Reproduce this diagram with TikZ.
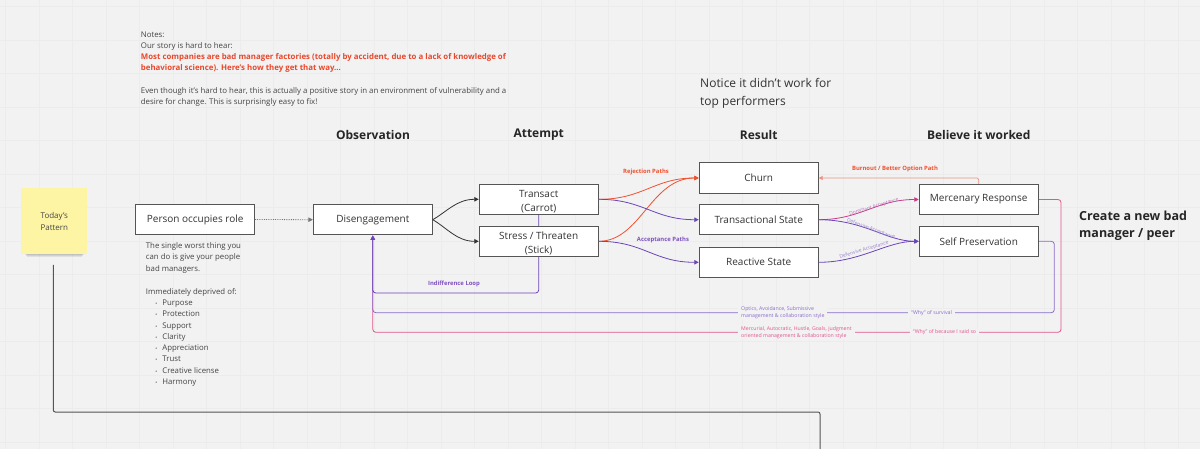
\documentclass[tikz,border=0pt]{standalone}
\usepackage{fontspec}
\setmainfont{Open Sans}
\usetikzlibrary{arrows.meta,calc}
\pgfdeclarelayer{bgl}
\pgfdeclarelayer{lines}
\pgfsetlayers{bgl,lines,main}
\definecolor{bgc}{HTML}{F2F2F2}
\definecolor{gridc}{HTML}{ECECEC}
\definecolor{boxline}{HTML}{555555}
\definecolor{txt}{HTML}{333333}
\definecolor{notetxt}{HTML}{444444}
\definecolor{redc}{HTML}{F0502F}
\definecolor{notered}{HTML}{E8472C}
\definecolor{burnc}{HTML}{EE9282}
\definecolor{purc}{HTML}{6C45B8}
\definecolor{purlab}{HTML}{7E52C0}
\definecolor{purlight}{HTML}{9B82CE}
\definecolor{domlab}{HTML}{B673B8}
\definecolor{magc}{HTML}{C8398A}
\definecolor{pinkc}{HTML}{E0568F}
\definecolor{loopP}{HTML}{8C6BCB}
\definecolor{stickyc}{HTML}{FDF5A4}
\newcommand{\mybul}{\hspace*{9.5pt}\makebox[7pt][l]{\fontsize{5}{5}\selectfont\textbullet}}
\tikzset{
  box/.style={draw=boxline, line width=0.9pt, fill=white, minimum width=119pt,
    minimum height=30.5pt, inner sep=0pt, align=center, text=txt,
    font=\fontsize{10}{14.3}\selectfont},
  hdr/.style={font=\fontsize{12}{14}\selectfont\bfseries, text=black!85, inner sep=0pt},
  tinylab/.style={font=\fontsize{5.9}{6.5}\selectfont\bfseries, inner sep=0pt},
  diaglab/.style={font=\fontsize{5}{5.5}\selectfont, inner sep=0pt},
  looplab/.style={fill=bgc, inner xsep=3pt, inner ysep=1pt, align=left,
    font=\fontsize{5.2}{6.7}\selectfont},
  arr/.style={-{Triangle[length=4.5pt,width=4.5pt]}},
  conn/.style={arr, line width=0.8pt},
}
\begin{document}
\begin{tikzpicture}[x=1pt,y=-1pt]
\useasboundingbox (0,0) rectangle (1200,449);
\begin{pgfonlayer}{bgl}
\fill[bgc] (0,0) rectangle (1200,449);
\foreach \i in {0,...,35} { \draw[gridc, line width=0.6pt] ({5.5+33.5*\i},0) -- ({5.5+33.5*\i},449); }
\foreach \j in {0,...,13} { \draw[gridc, line width=0.6pt] (0,{6.5+33.5*\j}) -- (1200,{6.5+33.5*\j}); }
\end{pgfonlayer}

% notes
\node[anchor=north west, inner sep=0pt, align=left, text=notetxt,
  font=\fontsize{7.85}{11.3}\selectfont] (notes) at (140.7,31.2)
  {Notes:\\Our story is hard to hear:\\
   {\color{notered}\bfseries Most companies are bad manager factories (totally by accident, due to a lack of knowledge of}\\
   {\color{notered}\bfseries behavioral science). Here's how they get that way...}\\[11.3pt]
   Even though it's hard to hear, this is actually a positive story in an environment of vulnerability and a\\
   desire for change. This is surprisingly easy to fix!};

\node[anchor=north west, inner sep=0pt, align=left, text=txt,
  font=\fontsize{12}{18}\selectfont] (notice) at (700,78)
  {Notice it didn't work for\\top performers};

% headers
\node[hdr] (hobs) at (373,135) {Observation};
\node[hdr] (hatt) at (538.7,135) {Attempt};
\node[hdr] (hres) at (758.7,135) {Result};
\node[hdr] (hbel) at (978.7,135) {Believe it worked};

\node[anchor=north west, inner sep=0pt, align=left, text=black!85,
  font=\fontsize{12.5}{17.3}\selectfont\bfseries] (create) at (1079,210.5)
  {Create a new bad\\manager / peer};

% sticky
\foreach \k in {1,...,5} { \fill[black, opacity=0.07] ({22+\k},248) rectangle ({87-\k},{252.5+\k}); }
\node[fill=stickyc, minimum width=66.3pt, minimum height=65.7pt, inner sep=0pt,
  align=center, text=notetxt, font=\fontsize{8}{11.7}\selectfont] (today) at (54.3,221.2)
  {Today's\\Pattern};

% left gray line
\coordinate (gl1) at (53.3,265);
\coordinate (gl2) at (820,412);
\coordinate (gl3) at (820,460);
\draw[line width=1pt, color=boxline, rounded corners=2pt] (gl1) |- (gl2) -- (gl3);

% description
\node[anchor=north west, inner sep=0pt, align=left, text=notetxt,
  font=\fontsize{7.8}{11.25}\selectfont] (descr) at (145.7,242.4)
  {The single worst thing you\\can do is give your people\\bad managers.\\[12pt]
   Immediately deprived of:\\
   \mybul Purpose\\\mybul Protection\\\mybul Support\\\mybul Clarity\\
   \mybul Appreciation\\\mybul Trust\\\mybul Creative license\\\mybul Harmony};

% boxes
\node[box] (person) at (195.2,219.5) {Person occupies role};
\node[box] (disen) at (372.8,219.7) {Disengagement};
\node[box] (trans) at (538.7,199.3) {\rule{0pt}{12.5pt}Transact\\(Carrot)};
\node[box] (stress) at (538.7,241.3) {\rule{0pt}{11.5pt}Stress / Threaten\\(Stick)};
\node[box] (churn) at (758.7,178) {Churn};
\node[box] (tstate) at (758.7,219.7) {Transactional State};
\node[box] (rstate) at (758.7,262.3) {Reactive State};
\node[box] (merc) at (978.7,199.5) {Mercenary Response};
\node[box] (selfp) at (978.7,241.3) {Self Preservation};

\coordinate (indR) at (538.7,293);
\coordinate (spR) at (1054.3,312.7);
\coordinate (mcR) at (1061,332.3);

\begin{pgfonlayer}{lines}
% loops
\draw[conn, pinkc, rounded corners=3pt] (merc.east) -| (mcR) -| (disen.south);
\draw[conn, loopP, rounded corners=3pt] (selfp.east) -| (spR) -| (disen.south);
\draw[conn, purc, rounded corners=3pt] (trans.south) -- (indR) -| (disen.south);
\end{pgfonlayer}

% observation -> attempt
\draw[line width=0.8pt, densely dotted, color=boxline!80, arr] (person.east) -- (disen.west);
\draw[conn, color=txt] (disen.east) .. controls +(14,-8) and +(-22,0) .. (trans.west);
\draw[conn, color=txt] (disen.east) .. controls +(14,8) and +(-22,0) .. (stress.west);

% rejection / acceptance
\draw[conn, redc] (trans.east) .. controls +(45,0) and +(-45,0) .. (churn.west);
\draw[conn, redc] (stress.east) .. controls +(42,0) and +(-48,0) .. (churn.west);
\draw[conn, purc] (trans.east) .. controls +(45,0) and +(-45,0) .. (tstate.west);
\draw[conn, purc] (stress.east) .. controls +(45,0) and +(-45,0) .. (rstate.west);

% result -> believe
\draw[conn, magc] (tstate.east) .. controls +(42,0) and +(-42,0) .. (merc.west);
\draw[conn, purc] (tstate.east) .. controls +(45,0) and +(-32,0) .. (selfp.west);
\draw[conn, purc] (rstate.east) .. controls +(42,0) and +(-32,0) .. (selfp.west);

% burnout
\draw[burnc, line width=0.7pt, rounded corners=2pt, -{Triangle[length=4pt,width=4pt]}] (merc.north) |- (churn.east);

% labels
\node[tinylab, text=redc] (lrej) at (646,172) {Rejection Paths};
\node[tinylab, text=purlab] (lacc) at (663,240) {Acceptance Paths};
\node[tinylab, text=purlab] (lind) at (454,284.3) {Indifference Loop};
\node[tinylab, text=redc] (lburn) at (895,169) {Burnout / Better Option Path};
\node[diaglab, text=domlab, rotate=17] (ldom) at (874,207) {Dominant Acceptance};
\node[diaglab, text=purlight, rotate=-20] (ldef1) at (871,229) {Defensive Acceptance};
\node[diaglab, text=purlight, rotate=17] (ldef2) at (864,250) {Defensive Acceptance};

\node[looplab, anchor=west, text=loopP] (lopt) at (738,312.7)
  {Optics, Avoidance, Submissive\\management \& collaboration style};
\node[looplab, text=loopP] (lsurv) at (931.5,313) {“Why” of survival};
\node[looplab, anchor=west, text=pinkc] (lmerc) at (738,332.3)
  {Mercurial, Autocratic, Hustle, Goals, judgment\\oriented management \& collaboration style};
\node[looplab, text=pinkc] (lsaid) at (944.5,332.5) {“Why” of because I said so};
\end{tikzpicture}
\end{document}
